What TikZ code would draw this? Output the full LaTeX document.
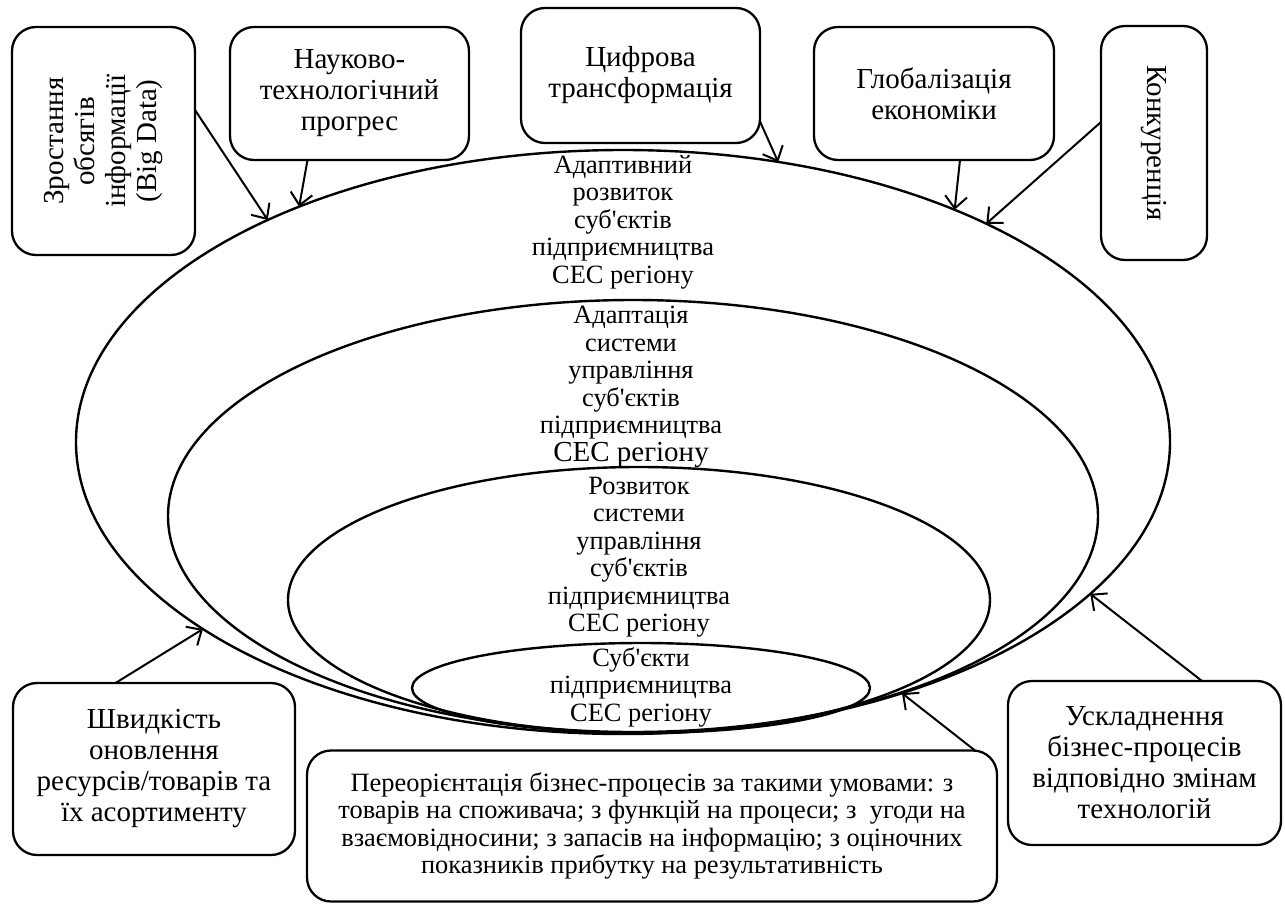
\documentclass[tikz,border=0pt]{standalone}
\usepackage{fontspec}
\newfontfamily\uafont{Liberation Serif}
\usetikzlibrary{arrows.meta,shapes.geometric}
\newcommand{\bigtxt}{\uafont\fontsize{29}{31}\selectfont}
\newcommand{\smalltxt}{\uafont\fontsize{26.4}{27.5}\selectfont}

\begin{document}
\begin{tikzpicture}[x=1pt,y=-1pt,
	factor/.style={draw,line width=2.3pt,rounded corners=24pt,align=center,inner sep=0pt,outer sep=0pt,font=\bigtxt},
	oval/.style={draw,ellipse,line width=2.4pt,inner sep=0pt,outer sep=0pt},
	inscr/.style={align=center,font=\smalltxt,inner sep=0pt},
	impact/.style={line width=2pt,-{Straight Barb[length=12pt,width=22pt,line width=2pt]}}]
	\useasboundingbox (0,0) rectangle (1285,905);
	% nested levels
	\node[oval,minimum width=1094pt,minimum height=584pt] (lvlA) at (623,442) {};
	\node[oval,minimum width=930pt,minimum height=432pt] (lvlB) at (633,516) {};
	\node[oval,minimum width=702pt,minimum height=266pt] (lvlC) at (639,600) {};
	\node[oval,minimum width=458pt,minimum height=90pt] (lvlD) at (641,688) {};
	\node[inscr] (txtA) at (623,222) {Адаптивний\\ розвиток\\ суб'єктів\\ підприємництва\\ СЕС регіону};
	\node[inscr] (txtB) at (631,387) {Адаптація\\ системи\\ управління\\ суб'єктів\\ підприємництва\\ {\bigtxt СЕС регіону}};
	\node[inscr] (txtC) at (639,557) {Розвиток\\ системи\\ управління\\ суб'єктів\\ підприємництва\\ СЕС регіону};
	\node[inscr] (txtD) at (641,687) {Суб'єкти\\ підприємництва\\ СЕС регіону};
	% factors
	\node[factor,rotate=90,minimum width=228pt,minimum height=183pt] (bigdata) at (103.5,141) {Зростання\\ обсягів\\ інформації\\ (Big Data)};
	\node[factor,minimum width=239pt,minimum height=133pt] (progres) at (349.5,93.5) {Науково-\\ технологічний\\ прогрес};
	\node[factor,minimum width=239pt,minimum height=135pt] (tsyfra) at (640.5,75.5) {Цифрова\\ трансформація};
	\node[factor,minimum width=240pt,minimum height=133pt] (global) at (934,93.5) {Глобалізація\\ економіки};
	\node[factor,rotate=-90,minimum width=234pt,minimum height=106pt] (konk) at (1154,143) {Конкуренція};
	\node[factor,minimum width=282pt,minimum height=172pt] (shvyd) at (154,769) {Швидкість\\ оновлення\\ ресурсів/товарів та\\ їх асортименту};
	\node[factor,font=\smalltxt,minimum width=690pt,minimum height=151pt] (pereor) at (652,826) {Переорієнтація бізнес-процесів за такими умовами: з\\ товарів на споживача; з функцій на процеси; з~ угоди на\\ взаємовідносини; з запасів на інформацію; з оціночних\\ показників прибутку на результативність};
	\node[factor,minimum width=273pt,minimum height=164pt] (uskl) at (1144.5,763) {Ускладнення\\ бізнес-процесів\\ відповідно змінам\\ технологій};
	% influences
	\draw[impact] ([yshift=31pt]bigdata.south) -- (lvlA.148);
	\draw[impact] ([xshift=-42pt]progres.south) -- (lvlA.144.7);
	\draw[impact] ([yshift=-46pt]tsyfra.east) -- (lvlA.61.5);
	\draw[impact] ([xshift=26pt]global.south) -- (lvlA.35.3);
	\draw[impact] ([yshift=21pt]konk.south) -- (lvlA.31.2);
	\draw[impact] ([xshift=-38.5pt]shvyd.north) -- (lvlA.204.4);
	\draw[impact] ([xshift=323pt]pereor.north) -- (lvlA.-42.2);
	\draw[impact] ([xshift=57.5pt]uskl.north) -- (lvlA.-18.6);
\end{tikzpicture}
\end{document}
